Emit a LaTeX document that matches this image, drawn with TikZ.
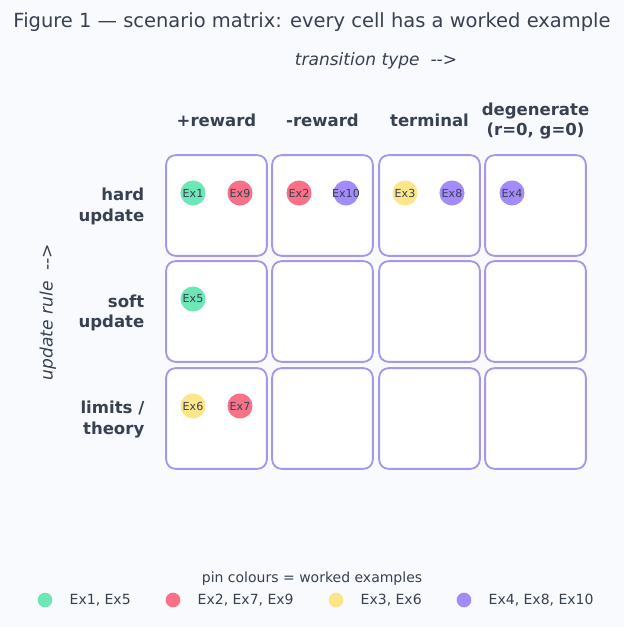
\documentclass[tikz,border=0pt]{standalone}
\usepackage{fontspec}
\setmainfont{DejaVu Sans}
\usetikzlibrary{shapes}
\definecolor{bgcol}{HTML}{F9FAFD}
\definecolor{ink}{HTML}{374151}
\definecolor{frame}{HTML}{A497EE}
\definecolor{pgreen}{HTML}{6EE7B7}
\definecolor{pred}{HTML}{F87187}
\definecolor{pyellow}{HTML}{FDE68A}
\definecolor{ppurple}{HTML}{A48BFA}
\newcommand{\exlab}[1]{\makebox[0pt]{#1}}

\begin{document}
\begin{tikzpicture}[x=0.75pt, y=-0.75pt,
  cell/.style={rectangle, draw=frame, fill=white, line width=1.4pt, rounded corners=7pt, minimum size=75.5pt, inner sep=0pt},
  pin/.style={circle, minimum size=18.8pt, inner sep=0pt, text=ink, font=\fontsize{8.3}{10}\selectfont},
  head/.style={text=ink, font=\bfseries\fontsize{12.4}{15.5}\selectfont, align=center},
  rowhead/.style={text=ink, font=\bfseries\fontsize{12.4}{15.5}\selectfont, align=right, anchor=east},
  axis/.style={text=ink, font=\itshape\fontsize{12.8}{15}\selectfont},
  key/.style={circle, minimum size=11pt, inner sep=0pt},
  keytext/.style={text=ink, anchor=west, font=\fontsize{10.5}{12}\selectfont}]
\fill[bgcol] (0,0) rectangle (624,627);

\node[text=ink, font=\fontsize{14.6}{17}\selectfont] (T) at (312,22) {Figure 1 — scenario matrix: every cell has a worked example};
\node[axis] (TT) at (376,61) {transition type\ \ {-}{-}>};
\node[axis, rotate=90] (UR) at (48,312) {update rule\ \ {-}{-}>};

% column heads
\node[head] (H1) at (216.5,120.5) {+reward};
\node[head] (H2) at (322.5,120.5) {-reward};
\node[head] (H3) at (429.5,120.5) {terminal};
\node[head] (H4) at (535.5,121) {degenerate\\(r=0, g=0)};

% row heads
\node[rowhead] (R1) at (149,206.5) {hard\\update};
\node[rowhead] (R2) at (149,313) {soft\\update};
\node[rowhead] (R3) at (149,419.5) {limits /\\theory};

% cells
\node[cell] (C11) at (216.5,205.5) {};
\node[cell] (C12) at (322.5,205.5) {};
\node[cell] (C13) at (429.5,205.5) {};
\node[cell] (C14) at (535.5,205.5) {};
\node[cell] (C21) at (216.5,311.5) {};
\node[cell] (C22) at (322.5,311.5) {};
\node[cell] (C23) at (429.5,311.5) {};
\node[cell] (C24) at (535.5,311.5) {};
\node[cell] (C31) at (216.5,418.5) {};
\node[cell] (C32) at (322.5,418.5) {};
\node[cell] (C33) at (429.5,418.5) {};
\node[cell] (C34) at (535.5,418.5) {};

% pins
\node[pin, fill=pgreen]  (E1)  at (193,193) {\exlab{Ex1}};
\node[pin, fill=pred]    (E9)  at (240,193) {\exlab{Ex9}};
\node[pin, fill=pred]    (E2)  at (299,193) {\exlab{Ex2}};
\node[pin, fill=ppurple] (E10) at (346,193) {\exlab{Ex10}};
\node[pin, fill=pyellow] (E3)  at (405,193) {\exlab{Ex3}};
\node[pin, fill=ppurple] (E8)  at (452,193) {\exlab{Ex8}};
\node[pin, fill=ppurple] (E4)  at (512,193) {\exlab{Ex4}};
\node[pin, fill=pgreen]  (E5)  at (193,299) {\exlab{Ex5}};
\node[pin, fill=pyellow] (E6)  at (193,406) {\exlab{Ex6}};
\node[pin, fill=pred]    (E7)  at (240,406) {\exlab{Ex7}};

% legend
\node[keytext, anchor=center] (L) at (312,579) {pin colours = worked examples};
\node[key, fill=pgreen]  (K1) at (45,600) {};
\node[keytext] (KT1) at (65,600) {Ex1, Ex5};
\node[key, fill=pred]    (K2) at (173,600) {};
\node[keytext] (KT2) at (193,600) {Ex2, Ex7, Ex9};
\node[key, fill=pyellow] (K3) at (336,600) {};
\node[keytext] (KT3) at (356,600) {Ex3, Ex6};
\node[key, fill=ppurple] (K4) at (464,600) {};
\node[keytext] (KT4) at (484,600) {Ex4, Ex8, Ex10};
\end{tikzpicture}
\end{document}
